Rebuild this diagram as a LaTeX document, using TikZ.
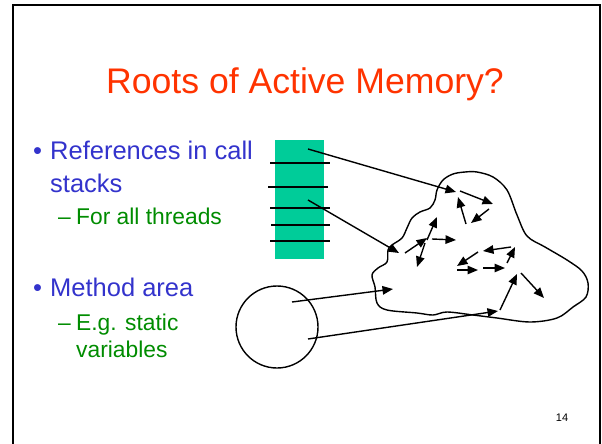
\documentclass[tikz,border=0pt]{standalone}
\usepackage{fontspec}
\setmainfont{Liberation Sans}
\usepackage{xcolor}
\definecolor{slideRed}{HTML}{FF3300}
\definecolor{slideBlue}{HTML}{3333CC}
\definecolor{slideGreen}{HTML}{008C00}
\definecolor{stackGreen}{HTML}{00CC99}
\usepackage{tikz}
\usetikzlibrary{arrows.meta,positioning}

\begin{document}
\begin{tikzpicture}[x=1pt, y=-1pt, >={Triangle[length=10.5pt,width=8.5pt]},
    ref/.style={->, line width=1.4pt},
    bullettext/.style={anchor=base west, inner sep=0pt, text=slideBlue, font=\fontsize{25.5}{30}\selectfont},
    subtext/.style={anchor=base west, inner sep=0pt, text=slideGreen, font=\fontsize{22.8}{27}\selectfont}]

    \useasboundingbox (0,0) rectangle (602,444);

    % --- Slide frame and title ---
    \draw[line width=2pt] (13,460) -- (13,5) -- (600,5) -- (600,460);
    \node[anchor=base, inner sep=0pt, text=slideRed, font=\fontsize{35.6}{40}\selectfont] (title) at (305,93) {Roots of Active Memory?};

    % --- Bullet list ---
    \node[bullettext] (bulletA) at (33,159) {•};
    \node[bullettext] (refsA) at (50,159) {References in call};
    \node[bullettext] (refsB) at (50,192) {stacks};
    \node[subtext] (dashA) at (58,224) {–};
    \node[subtext] (threads) at (76,224) {For all threads};

    \node[bullettext] (bulletB) at (33,296) {•};
    \node[bullettext] (method) at (50,296) {Method area};
    \node[subtext] (dashB) at (58,330) {–};
    \node[subtext] (staticA) at (76,330) {E.g. static};
    \node[subtext] (staticB) at (76,357) {variables};

    % --- Call stack with frames ---
    \node[fill=stackGreen, minimum width=49pt, minimum height=119pt, inner sep=0pt] (stack) at (299.5,199.5) {};
    \foreach \y/\l/\r in {163/270/330, 187/268/328, 208/270/330, 225/271/330, 241/270/330}
        \draw[line width=1.6pt] (\l,\y) -- (\r,\y);
    \coordinate (frameA) at (308,149);
    \coordinate (frameB) at (308,200);

    % --- Method area ---
    \node[draw, circle, line width=1.4pt, minimum size=82pt, inner sep=0pt] (methodarea) at (277,327) {};
    \coordinate (staticX) at (292,302);
    \coordinate (staticY) at (308,339);

    % --- Heap (cloud) ---
    \draw[line width=1.4pt] plot[smooth cycle, tension=0.55] coordinates {
        (443,180) (453,174) (465,172) (477,172) (493,177) (507,190) (517,215) (527,236)
        (545,247) (567,260) (582,271) (588,283) (586,297) (573,307) (557,318) (530,322)
        (497,318) (473,315) (447,312) (433,315) (417,313) (387,310) (377,303) (375,287)
        (372,275) (378,268) (387,262) (388,250) (392,245) (402,238) (407,228) (412,218)
        (420,212) (430,208) (435,200) (437,190)};

    % heap objects pointing to each other
    \foreach \i/\ax/\ay/\bx/\by in {1/460/191/493/204, 2/466/224/458/197,
                                    3/489/209/471/223, 4/405/253/427/238,
                                    5/427/240/437/217, 6/425/243/417/267,
                                    7/432/239/456/240, 8/511/247/483/251,
                                    9/478/252/457/266, 10/457/270/478/270,
                                    11/483/268/505/268, 12/507/263/515/247,
                                    13/500/310/517/274, 14/521/273/544/298} {
        \coordinate (objS\i) at (\ax,\ay);
        \coordinate (objE\i) at (\bx,\by);
        \draw[ref] (objS\i) -- (objE\i);
    }

    % roots into the heap
    \coordinate (heapA) at (456,192);
    \coordinate (heapB) at (399,253);
    \coordinate (heapC) at (393,289);
    \coordinate (heapD) at (498,311);
    \draw[ref] (frameA) -- (heapA);
    \draw[ref] (frameB) -- (heapB);
    \draw[ref] (staticX) -- (heapC);
    \draw[ref] (staticY) -- (heapD);

    % --- Slide number ---
    \node[anchor=base, inner sep=0pt, font=\fontsize{11}{13}\selectfont] (pagenum) at (562,421) {14};

\end{tikzpicture}
\end{document}
